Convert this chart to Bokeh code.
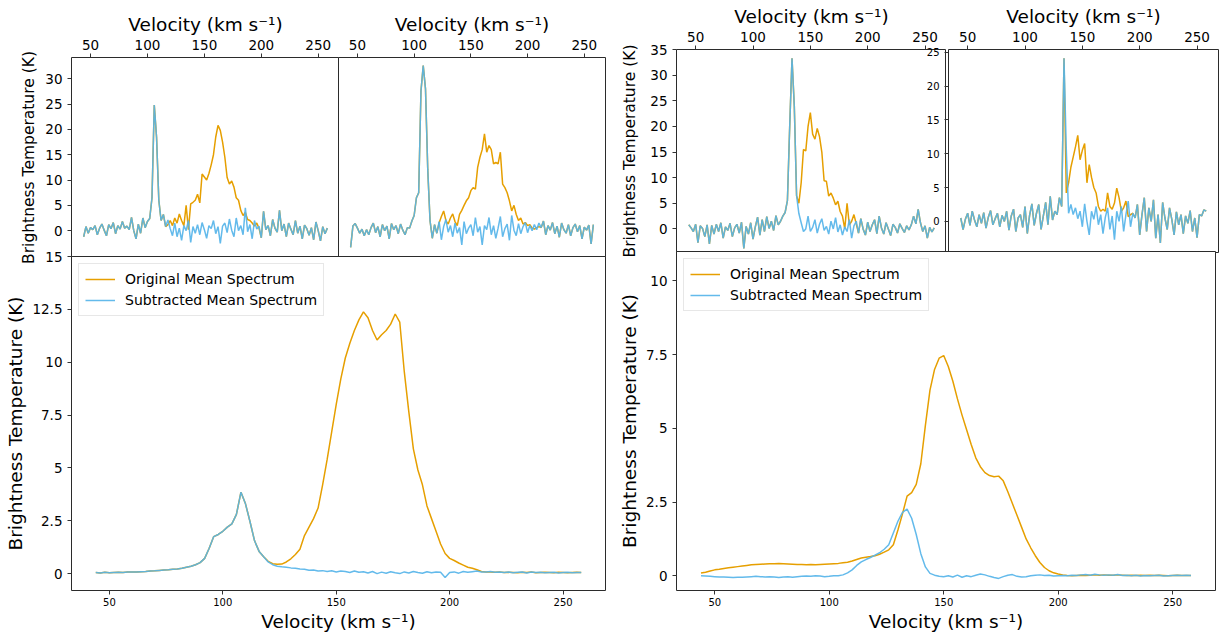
from bokeh.plotting import figure
from bokeh.layouts import row, column
from bokeh.models import Range1d, FixedTicker, CustomJSTickFormatter, Legend, LegendItem
from bokeh.embed import file_html
from bokeh.resources import INLINE

# ---------------- data ----------------
velocity = [
    44, 46, 48, 50, 52, 54, 56, 58, 60, 62,
    64, 66, 68, 70, 72, 74, 76, 78, 80, 82,
    84, 86, 88, 90, 92, 94, 96, 98, 100, 102,
    104, 106, 108, 110, 112, 114, 116, 118, 120, 122,
    124, 126, 128, 130, 132, 134, 136, 138, 140, 142,
    144, 146, 148, 150, 152, 154, 156, 158, 160, 162,
    164, 166, 168, 170, 172, 174, 176, 178, 180, 182,
    184, 186, 188, 190, 192, 194, 196, 198, 200, 202,
    204, 206, 208, 210, 212, 214, 216, 218, 220, 222,
    224, 226, 228, 230, 232, 234, 236, 238, 240, 242,
    244, 246, 248, 250, 252, 254, 256, 258,
]

# Left set, top-left small panel
tl1_sub = [
    -1.2, 0.8, -0.5, 0.6, 0.2, 1.0, -0.8, 0.5, 1.3, 0.1,
    -1.0, 1.2, 0.4, 1.6, -0.6, 1.0, 0.3, 1.8, 0.5, 0.9,
    0.2, 2.6, 0.0, -1.6, 1.3, -0.5, 2.5, 0.6, 1.8, 2.4,
    6.5, 24.8, 18.5, 6.0, 2.0, 3.2, 0.8, 2.1, 0.4, -1.0,
    1.5, -1.2, 0.5, -1.9, 1.0, 0.0, 2.0, -2.3, 0.8, -0.5,
    1.2, -0.8, 1.6, 0.2, -1.5, 1.0, 0.4, 2.0, -0.6, 0.8,
    -2.5, 0.9, 1.5, -0.4, 2.3, 0.1, -1.2, 2.5, 0.0, 1.0,
    -0.8, 4.5, -0.2, 1.2, -1.6, 2.0, 0.3, 0.9, -1.4, 3.8,
    0.2, 1.0, -1.0, 2.2, 0.5, -0.3, 4.0, 0.0, 1.3, -1.2,
    1.5, 0.3, -0.8, 2.0, -0.5, 0.9, -1.6, 1.1, 0.4, -0.9,
    0.6, -1.8, 1.7, 0.0, -2.0, 0.8, -0.6, 0.5,
]
tl1_core_start = 118
tl1_core = [
    1.2, 2.0, 1.0, 2.5, 1.5, 3.3, 2.0, 1.0, 5.0, 0.2,
    5.3, 5.6, 6.0, 7.2, 5.5, 11.2, 10.6, 10.0, 11.3, 13.0,
    15.0, 18.5, 20.8, 19.8, 17.5, 14.5, 10.5, 9.2, 9.8, 8.6,
    6.5, 6.0, 4.0, 3.0, 3.6, 2.2, 2.0, 1.5, 0.9, 1.5,
    0.5,
]

# Left set, top-right small panel
tl2_sub = [
    -3.3, 0.9, 1.4, 0.5, -0.5, 0.3, -1.0, 0.2, -0.8, 0.6,
    1.5, -0.4, 0.8, -1.2, 1.2, 0.0, 0.9, -1.6, 1.4, 0.2,
    1.0, -0.6, 1.3, 0.1, -0.8, 0.6, 0.5, 1.9, 3.0, 6.5,
    7.5, 27.5, 32.6, 28.0, 12.0, 2.0, -1.5, 1.2, -0.5, 1.8,
    -1.8, 0.8, 2.2, -0.3, 1.0, -1.2, 1.5, -0.5, 0.6, -2.8,
    1.8, -0.6, 0.5, 1.2, -1.0, 2.6, -0.3, 0.8, -2.8, 1.0,
    0.2, 2.6, -0.8, 1.0, -1.5, 0.5, 2.8, -1.2, 0.4, 1.3,
    -1.9, 3.0, 0.1, -1.0, 1.4, -0.6, 0.8, 1.6, -0.4, 1.0,
    0.0, 1.2, 0.2, 1.5, 0.6, 1.9, -0.8, 1.0, 0.1, 1.6,
    -0.6, 0.9, -1.3, 1.5, 0.2, -0.5, 1.2, -1.0, 0.6, 1.3,
    -0.2, 1.0, -1.6, 0.7, 0.1, 1.1, -2.6, 1.2,
]
tl2_core_start = 122
tl2_core = [
    1.5, 2.8, 3.9, 2.0, 1.3, 2.5, 3.3, 1.8, 1.0, 3.2,
    4.0, 5.0, 5.9, 6.5, 7.9, 8.5, 8.2, 12.5, 14.5, 16.0,
    19.1, 15.5, 16.8, 16.0, 13.2, 13.5, 13.2, 15.5, 9.2, 8.5,
    7.5, 5.9, 3.9, 5.0, 3.2, 2.0, 2.5, 1.3, 1.6, 1.0,
    1.2, 0.5, 0.3, 0.6, 0.8,
]

# Left set, mean spectra
lb_orig = [
    0.05, 0.03, 0.06, 0.04, 0.05, 0.06, 0.05, 0.07, 0.08, 0.07,
    0.09, 0.1, 0.12, 0.13, 0.15, 0.17, 0.18, 0.2, 0.22, 0.25,
    0.3, 0.35, 0.42, 0.52, 0.72, 1.2, 1.75, 1.85, 2.0, 2.2,
    2.35, 2.8, 3.85, 3.3, 2.45, 1.55, 1.05, 0.8, 0.58, 0.47,
    0.44, 0.45, 0.55, 0.7, 0.9, 1.15, 1.8, 2.2, 2.6, 3.1,
    4.2, 5.4, 6.7, 8.0, 9.2, 10.2, 10.9, 11.5, 12.0, 12.38,
    12.1, 11.5, 11.05, 11.3, 11.5, 11.8, 12.28, 11.9, 9.55, 7.65,
    5.9, 4.9, 4.2, 3.2, 2.6, 2.0, 1.4, 0.95, 0.72, 0.62,
    0.5, 0.4, 0.3, 0.25, 0.18, 0.1, 0.08, 0.07, 0.06, 0.07,
    0.05, 0.06, 0.05, 0.04, 0.06, 0.05, 0.07, 0.04, 0.05, 0.06,
    0.05, 0.04, 0.06, 0.05, 0.04, 0.05, 0.06, 0.05,
]
lb_sub = [
    0.05, 0.03, 0.06, 0.04, 0.05, 0.06, 0.05, 0.07, 0.08, 0.07,
    0.09, 0.1, 0.12, 0.13, 0.15, 0.17, 0.18, 0.2, 0.22, 0.25,
    0.3, 0.35, 0.42, 0.52, 0.72, 1.2, 1.75, 1.85, 2.0, 2.2,
    2.35, 2.8, 3.85, 3.3, 2.45, 1.55, 1.05, 0.8, 0.55, 0.42,
    0.35, 0.32, 0.3, 0.27, 0.25, 0.22, 0.2, 0.16, 0.17, 0.12,
    0.14, 0.1, 0.13, 0.08, 0.12, 0.1, 0.05, 0.12, 0.06, 0.09,
    0.03, 0.1, 0.0, 0.07, 0.02, 0.09, 0.04, 0.0, 0.08, 0.03,
    0.1, 0.05, 0.02, 0.09, 0.04, 0.08, 0.06, -0.18, 0.05, 0.08,
    0.02, 0.1, 0.06, 0.09, 0.12, 0.08, 0.07, 0.1, 0.06, 0.08,
    0.05, 0.07, 0.04, 0.06, 0.08, 0.03, 0.07, 0.05, 0.06, 0.04,
    0.05, 0.06, 0.03, 0.05, 0.06, 0.04, 0.05, 0.05,
]

# Right set, top-left small panel
tr1_sub = [
    0.8, 0.2, -0.5, 0.9, -2.7, 0.6, 0.1, -1.5, 0.8, -2.9,
    0.7, -1.0, 0.9, -0.5, 1.2, -1.8, 0.4, -0.3, 1.1, -1.5,
    0.2, 0.9, -0.8, 1.3, -3.8, 0.5, -1.0, 1.2, -2.0, 0.4,
    2.3, -1.2, 1.8, -0.5, 2.4, 0.1, 1.5, -0.3, 2.6, 0.8,
    1.5, 2.5, 3.2, 5.5, 20.0, 33.3, 24.0, 6.5, 3.0, 1.2,
    -0.5, 0.0, 2.5, -0.5, 0.3, 1.8, -0.8, 0.9, 2.0, -0.3,
    0.5, -1.0, 1.5, 0.0, 2.2, -0.6, 0.8, -1.2, 0.4, -0.5,
    1.8, -1.8, 0.6, 1.5, -0.8, 2.0, 0.0, -1.2, 1.3, -0.5,
    0.8, 1.8, -0.9, 2.5, 0.2, -1.0, 1.2, 0.0, -1.3, 0.9,
    0.3, -0.8, 1.0, 0.1, -0.7, 0.6, -0.2, 0.8, 2.5, 1.0,
    3.8, 1.2, -0.5, 0.6, -1.8, 0.3, -0.6, 0.2,
]
tr1_core_start = 140
tr1_core = [
    5.0, 9.0, 15.5, 15.2, 20.0, 22.7, 18.5, 17.5, 19.6, 18.0,
    15.0, 9.4, 9.3, 6.4, 7.0, 6.0, 4.7, 5.4, 3.4, 2.5,
    0.0, 5.0, 0.8, 1.5, 2.8, 1.0,
]

# Right set, top-right small panel
tr2_sub = [
    0.5, -1.2, 0.3, 1.2, -0.6, 1.5, 0.2, -0.8, 1.0, -0.3,
    1.3, -1.0, 0.6, 1.6, -0.5, 0.4, 1.2, -0.8, 0.9, 0.0,
    1.5, -1.3, 0.8, 1.8, -1.5, 0.5, 1.0, -0.9, 2.2, -1.8,
    0.9, 2.6, -0.6, 1.2, 2.5, -1.2, 0.8, 2.8, -0.5, 3.7,
    0.2, 1.5, 1.0, 3.5, 2.2, 24.1, 10.6, 1.2, 2.5, 1.0,
    2.0, 0.4, 1.5, -0.8, 2.6, 0.0, -2.0, 1.5, 0.3, 2.2,
    -0.5, 1.0, -1.8, 0.6, 2.0, -1.2, 0.8, -2.7, 1.5, 0.0,
    2.2, -1.5, 1.0, 3.0, -0.8, 1.2, 0.5, 2.5, -2.0, 1.0,
    3.5, -1.5, 2.0, 0.0, 3.2, -2.5, 1.0, -3.2, 2.8, 0.5,
    -1.2, 2.0, 0.3, -2.0, 1.4, -0.5, 1.0, -1.8, 0.8, -0.3,
    1.6, -1.5, 0.5, -2.4, 1.0, 0.8, 1.7, 1.5,
]
tr2_core_start = 136
tr2_core = [
    4.2, 5.7, 8.0, 9.5, 11.0, 12.7, 9.1, 10.5, 11.5, 5.7,
    8.4, 6.5, 5.0, 4.2, 2.2, 1.5, 1.8, 1.5, 4.2, 2.2,
    1.8, 2.7, 4.9, 3.5, 1.5, 2.0, 3.0, 0.7, 1.0,
]

# Right set, mean spectra
rb_orig = [
    0.09, 0.12, 0.16, 0.2, 0.22, 0.25, 0.27, 0.29, 0.31, 0.33,
    0.35, 0.37, 0.38, 0.39, 0.4, 0.41, 0.41, 0.42, 0.41, 0.4,
    0.39, 0.38, 0.38, 0.37, 0.38, 0.37, 0.38, 0.39, 0.4, 0.41,
    0.42, 0.44, 0.46, 0.5, 0.55, 0.6, 0.63, 0.65, 0.68, 0.73,
    0.8, 0.88, 1.05, 1.55, 2.1, 2.7, 2.82, 3.1, 3.8, 5.1,
    6.3, 7.0, 7.38, 7.47, 7.1, 6.6, 6.0, 5.45, 4.95, 4.45,
    4.0, 3.7, 3.5, 3.4, 3.36, 3.38, 3.22, 2.85, 2.45, 2.05,
    1.65, 1.25, 0.95, 0.68, 0.45, 0.28, 0.17, 0.1, 0.06, 0.03,
    0.01, 0.0, 0.01, 0.02, 0.01, 0.02, 0.03, 0.02, 0.03, 0.02,
    0.02, 0.03, 0.02, 0.01, 0.02, 0.01, 0.02, 0.01, 0.02, 0.01,
    0.02, 0.01, 0.0, 0.01, 0.02, 0.01, 0.01, 0.01,
]
rb_sub = [
    0.0, -0.01, -0.02, -0.03, -0.04, -0.04, -0.05, -0.06, -0.05, -0.05,
    -0.04, -0.03, -0.02, -0.03, -0.04, -0.03, -0.04, -0.06, -0.04, -0.03,
    -0.05, -0.03, -0.02, -0.01, -0.02, 0.0, -0.01, -0.03, -0.02, 0.0,
    0.0, 0.03, 0.1, 0.2, 0.35, 0.47, 0.55, 0.62, 0.7, 0.78,
    0.9, 1.05, 1.45, 1.85, 2.15, 2.26, 1.95, 1.4, 0.75, 0.3,
    0.08, 0.02, -0.02, -0.03, 0.0, -0.04, 0.02, -0.05, 0.0, -0.03,
    0.02, 0.06, 0.03, -0.02, -0.06, -0.09, -0.03, 0.02, 0.04, -0.02,
    -0.04, -0.03, 0.0, 0.02, 0.03, 0.01, 0.02, -0.01, 0.0, 0.01,
    0.0, 0.02, 0.01, 0.03, 0.04, 0.02, 0.05, 0.03, 0.02, 0.03,
    0.02, 0.04, 0.01, 0.02, 0.0, 0.02, -0.01, 0.01, 0.0, 0.01,
    0.02, -0.01, 0.0, 0.01, 0.02, 0.01, 0.02, 0.01,
]

x_ticks = [50, 100, 150, 200, 250]
tl_y_ticks = [0, 5, 10, 15, 20, 25, 30]
tr1_y_ticks = [0, 5, 10, 15, 20, 25, 30, 35]
tr2_y_ticks = [0, 5, 10, 15, 20, 25]
lb_y_ticks = [0, 2.5, 5, 7.5, 10, 12.5, 15]
rb_y_ticks = [0, 2.5, 5, 7.5, 10]
legend_labels = ["Original Mean Spectrum", "Subtracted Mean Spectrum"]

# ---------------- style ----------------
ORANGE = "#E69F00"
BLUE = "#56B4E9"
FONT = "DejaVu Sans"
XLABEL = "Velocity (km s\u207b\u00b9)"
YLABEL = "Brightness Temperature (K)"
X_START, X_END = 33.3, 268.7
OVERLAP = 12  # transparent strip that lets the upper panels' texts spill downwards


def with_core(sub, start, core):
    i = velocity.index(start)
    out = list(sub)
    out[i:i + len(core)] = core
    return out


def style_axis(ax, tick_size, label_size=None, tick_standoff=4, label_standoff=3):
    ax.major_label_text_font = FONT
    ax.major_label_text_font_size = tick_size
    ax.major_label_text_color = "black"
    ax.major_label_standoff = tick_standoff
    ax.axis_label_text_font = FONT
    ax.axis_label_text_font_style = "normal"
    ax.axis_label_text_color = "black"
    if label_size:
        ax.axis_label_text_font_size = label_size
    ax.axis_label_standoff = label_standoff
    ax.axis_line_color = None
    ax.major_tick_line_color = "#333333"
    ax.major_tick_in = 0
    ax.major_tick_out = 4
    ax.minor_tick_line_color = None


def base_style(p):
    p.grid.visible = False
    p.outline_line_color = "#2b2b2b"
    p.outline_line_width = 1
    p.border_fill_color = None
    p.background_fill_color = "white"


def small_panel(sub, orig, y_range, y_ticks, fw, fh, left, right, top,
                y_axis=True, ylabel=None, ytick_size="13.5px", ylabel_standoff=4, margin=None):
    kw = dict(frame_width=fw, frame_height=fh,
              x_range=Range1d(X_START, X_END), y_range=y_range,
              x_axis_location="above", y_axis_location="left" if y_axis else None,
              min_border_left=left, min_border_right=right, min_border_top=top,
              min_border_bottom=OVERLAP,
              output_backend="svg", toolbar_location=None)
    if margin is not None:
        kw["margin"] = margin
    p = figure(**kw)
    base_style(p)
    p.line(velocity, orig, line_color=ORANGE, line_width=1.5)
    p.line(velocity, sub, line_color=BLUE, line_width=1.5, line_alpha=0.92)
    p.xaxis.ticker = FixedTicker(ticks=x_ticks)
    p.xaxis.axis_label = XLABEL
    style_axis(p.xaxis[0], "13.5px", "18.5px", tick_standoff=4, label_standoff=2)
    if y_axis:
        p.yaxis.ticker = FixedTicker(ticks=y_ticks)
        if ylabel:
            p.yaxis.axis_label = ylabel
        style_axis(p.yaxis[0], ytick_size, "15.5px", tick_standoff=5, label_standoff=ylabel_standoff)
    return p


def mean_panel(orig, sub, y_range, y_ticks, fw, fh, left, right, ylabel_standoff):
    p = figure(frame_width=fw, frame_height=fh,
               x_range=Range1d(X_START, X_END), y_range=y_range,
               min_border_left=left, min_border_right=right, min_border_top=10, min_border_bottom=49,
               margin=(-(10 + OVERLAP + 1), 0, 0, 0), output_backend="svg", toolbar_location=None)
    base_style(p)
    r1 = p.line(velocity, orig, line_color=ORANGE, line_width=1.5)
    r2 = p.line(velocity, sub, line_color=BLUE, line_width=1.5, line_alpha=0.92)
    p.xaxis.ticker = FixedTicker(ticks=x_ticks)
    p.xaxis.axis_label = XLABEL
    style_axis(p.xaxis[0], "10px", "18.5px", tick_standoff=3, label_standoff=2)
    p.yaxis.ticker = FixedTicker(ticks=y_ticks)
    p.yaxis.formatter = CustomJSTickFormatter(code="return tick.toString();")
    p.yaxis.axis_label = YLABEL
    style_axis(p.yaxis[0], "13.5px", "18.5px", tick_standoff=5, label_standoff=ylabel_standoff)
    legend = Legend(items=[LegendItem(label=legend_labels[0], renderers=[r1]),
                           LegendItem(label=legend_labels[1], renderers=[r2])],
                    location="top_left")
    legend.label_text_font = FONT
    legend.label_text_font_size = "14px"
    legend.label_text_color = "black"
    legend.glyph_width = 30
    legend.glyph_height = 18
    legend.label_height = 18
    legend.label_standoff = 10
    legend.padding = 6
    legend.spacing = 3
    legend.margin = 7
    legend.border_line_color = "#d0d0d0"
    legend.border_line_width = 1
    legend.background_fill_alpha = 0.9
    p.add_layout(legend)
    return p


# ---------------- left set ----------------
tl_y = Range1d(-5.3, 34.2)
tl1 = small_panel(tl1_sub, with_core(tl1_sub, tl1_core_start, tl1_core), tl_y, tl_y_ticks,
                  268, 200, 71, 0, 57, y_axis=True, ylabel=YLABEL, ylabel_standoff=4)
tl2 = small_panel(tl2_sub, with_core(tl2_sub, tl2_core_start, tl2_core), tl_y, tl_y_ticks,
                  267, 200, 0, 5, 57, y_axis=False, margin=(0, 0, 0, -1))
lb = mean_panel(lb_orig, lb_sub, Range1d(-0.8, 15.0), lb_y_ticks, 534, 334, 71, 5, 3)
left_col = column(row(tl1, tl2), lb)

# ---------------- right set ----------------
tr1 = small_panel(tr1_sub, with_core(tr1_sub, tr1_core_start, tr1_core), Range1d(-4.6, 35.0), tr1_y_ticks,
                  270, 203, 66, 0, 49, y_axis=True, ylabel=YLABEL, ylabel_standoff=8)
tr2 = small_panel(tr2_sub, with_core(tr2_sub, tr2_core_start, tr2_core), Range1d(-4.6, 25.4), tr2_y_ticks,
                  270, 203, 22, 4, 49, y_axis=True, ylabel=None, ytick_size="10px",
                  margin=(0, 0, 0, -23))
rb = mean_panel(rb_orig, rb_sub, Range1d(-0.5, 11.0), rb_y_ticks, 539, 339, 66, 4, 3)
right_col = column(row(tr1, tr2), rb)

root = row(left_col, right_col)

open("out.html", "w").write(file_html(root, INLINE))
